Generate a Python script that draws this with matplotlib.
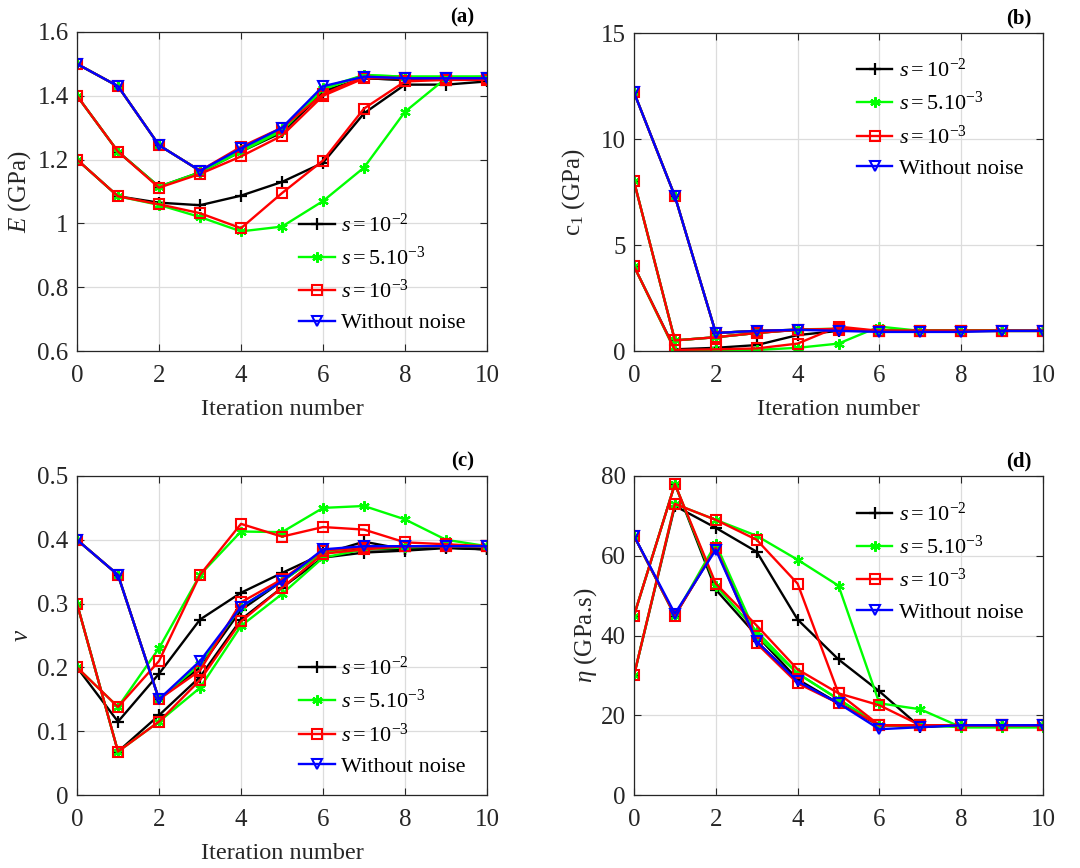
import matplotlib
matplotlib.use('Agg')
import matplotlib.pyplot as plt

plt.rcParams['font.family'] = 'Liberation Serif'
plt.rcParams['mathtext.fontset'] = 'custom'
plt.rcParams['mathtext.rm'] = 'Liberation Serif'
plt.rcParams['mathtext.it'] = 'Liberation Serif:italic'
plt.rcParams['mathtext.bf'] = 'Liberation Serif:bold'
plt.rcParams['mathtext.default'] = 'it'

iters = list(range(11))

# ---- (a) Young's modulus E (GPa); three starting guesses per noise level
E_s2 = [[1.5, 1.43, 1.245, 1.165, 1.23, 1.29, 1.415, 1.455, 1.45, 1.45, 1.45],
        [1.4, 1.225, 1.115, 1.16, 1.225, 1.285, 1.41, 1.455, 1.45, 1.45, 1.45],
        [1.2, 1.085, 1.065, 1.057, 1.087, 1.13, 1.19, 1.345, 1.435, 1.435, 1.445]]
E_s5 = [[1.5, 1.43, 1.245, 1.165, 1.23, 1.295, 1.425, 1.465, 1.46, 1.46, 1.46],
        [1.4, 1.225, 1.115, 1.16, 1.225, 1.29, 1.42, 1.465, 1.46, 1.46, 1.46],
        [1.2, 1.085, 1.058, 1.02, 0.975, 0.99, 1.07, 1.175, 1.35, 1.455, 1.46]]
E_s3 = [[1.5, 1.43, 1.245, 1.165, 1.24, 1.30, 1.405, 1.46, 1.455, 1.455, 1.455],
        [1.4, 1.225, 1.112, 1.155, 1.21, 1.275, 1.40, 1.455, 1.455, 1.455, 1.455],
        [1.2, 1.085, 1.06, 1.032, 0.985, 1.095, 1.197, 1.36, 1.445, 1.45, 1.45]]
E_nn = [1.5, 1.43, 1.245, 1.165, 1.235, 1.30, 1.43, 1.46, 1.455, 1.455, 1.455]

# ---- (b) c1 (GPa)
C_s2 = [[12.2, 7.3, 0.85, 0.95, 1.0, 1.0, 0.95, 0.95, 0.95, 0.95, 0.95],
        [8.0, 0.5, 0.65, 0.85, 1.0, 1.0, 0.95, 0.95, 0.95, 0.95, 0.95],
        [4.0, 0.08, 0.15, 0.28, 0.75, 0.95, 0.95, 0.95, 0.95, 0.95, 0.95]]
C_s5 = [[12.2, 7.3, 0.85, 0.95, 1.0, 1.0, 0.95, 0.95, 0.95, 0.95, 0.95],
        [8.0, 0.5, 0.65, 0.85, 1.02, 1.05, 0.95, 0.95, 0.95, 0.95, 0.95],
        [4.0, 0.02, 0.05, 0.05, 0.15, 0.35, 1.15, 0.95, 0.95, 0.95, 0.95]]
C_s3 = [[12.2, 7.3, 0.85, 0.95, 1.0, 1.0, 0.95, 0.95, 0.95, 0.95, 0.95],
        [8.0, 0.5, 0.65, 0.85, 1.0, 1.05, 0.95, 0.95, 0.95, 0.95, 0.95],
        [4.0, 0.05, 0.08, 0.12, 0.35, 1.15, 0.95, 0.95, 0.95, 0.95, 0.95]]
C_nn = [12.2, 7.3, 0.85, 0.95, 1.0, 0.95, 0.9, 0.9, 0.9, 0.95, 0.95]

# ---- (c) Poisson ratio nu
N_s2 = [[0.4, 0.345, 0.15, 0.2, 0.29, 0.335, 0.38, 0.385, 0.385, 0.388, 0.385],
        [0.3, 0.068, 0.125, 0.185, 0.275, 0.325, 0.372, 0.38, 0.383, 0.387, 0.385],
        [0.2, 0.115, 0.19, 0.275, 0.317, 0.348, 0.378, 0.397, 0.385, 0.388, 0.385]]
N_s5 = [[0.4, 0.345, 0.15, 0.205, 0.295, 0.335, 0.38, 0.39, 0.39, 0.39, 0.39],
        [0.3, 0.068, 0.115, 0.168, 0.265, 0.315, 0.372, 0.385, 0.388, 0.39, 0.39],
        [0.2, 0.138, 0.23, 0.345, 0.413, 0.412, 0.45, 0.453, 0.432, 0.40, 0.39]]
N_s3 = [[0.4, 0.345, 0.15, 0.195, 0.302, 0.338, 0.383, 0.388, 0.39, 0.39, 0.39],
        [0.3, 0.068, 0.115, 0.18, 0.272, 0.325, 0.378, 0.385, 0.39, 0.39, 0.39],
        [0.2, 0.138, 0.21, 0.345, 0.425, 0.405, 0.42, 0.416, 0.396, 0.393, 0.39]]
N_nn = [0.4, 0.345, 0.15, 0.21, 0.295, 0.335, 0.385, 0.39, 0.39, 0.39, 0.39]

# ---- (d) viscosity eta (GPa.s)
H_s2 = [[65, 45, 62, 38.5, 28.5, 23, 17.5, 17.5, 17.5, 17.5, 17.5],
        [45, 78, 51.5, 40, 29, 23, 17.5, 17.5, 17.5, 17.5, 17.5],
        [30, 72.5, 67, 61, 44, 34, 26, 17, 17.5, 17.5, 17.5]]
H_s5 = [[65, 45, 63, 40, 30.5, 24, 17.5, 17.5, 17.5, 17.5, 17.5],
        [45, 78, 52.5, 41, 30.5, 24, 17.5, 17.5, 17, 17, 17],
        [30, 73, 69, 65, 59, 52.5, 23, 21.5, 17, 17, 17]]
H_s3 = [[65, 45, 62, 38, 28, 23, 17.5, 17.5, 17.5, 17.5, 17.5],
        [45, 78, 53, 42.5, 31.5, 25.5, 17.5, 17.5, 17.5, 17.5, 17.5],
        [30, 73, 69, 64, 53, 25.5, 22.5, 17.5, 17.5, 17.5, 17.5]]
H_nn = [65, 45.5, 61.5, 38.5, 28.5, 23, 16.5, 17, 17.5, 17.5, 17.5]

LABELS = [r'$s=10^{-2}$', r'$s=5.10^{-3}$', r'$s=10^{-3}$', 'Without noise']
STYLE = [dict(color='#000000', marker='+', ms=9, mew=1.6),
         dict(color='#00ff00', marker=(6, 2, 0), ms=7.5, mew=1.6),
         dict(color='#ff0000', marker='s', ms=6.5, mew=1.5, mfc='none'),
         dict(color='#0000ff', marker='v', ms=7.5, mew=1.5, mfc='none')]

AX_POS = {'a': [77, 32, 487, 351], 'b': [634, 33, 1043, 351],
          'c': [77, 476, 487, 795], 'd': [634, 476, 1043, 795]}
W, H = 1080, 868


def panel(fig, key, s2, s5, s3, nn, ylim, yticks, yticklabels, ylabel,
          leg_anchor, xlabel=True, ylabelpad=3):
    l, t, r, b = AX_POS[key]
    ax = fig.add_axes([l / W, 1 - b / H, (r - l) / W, (b - t) / H])
    handles = []
    for runs, st in zip([s2, s5, s3], STYLE[:3]):
        for k, y in enumerate(runs):
            h, = ax.plot(iters, y, lw=1.7, **st)
            if k == 0:
                handles.append(h)
    h, = ax.plot(iters, nn, lw=1.7, **STYLE[3])
    handles.append(h)

    ax.set_xlim(0, 10)
    ax.set_ylim(*ylim)
    ax.set_xticks(range(0, 11, 2))
    ax.set_yticks(yticks)
    ax.set_yticklabels(yticklabels)
    ax.tick_params(direction='in', top=True, right=True, labelsize=18,
                   length=5, width=0.8, colors='#262626')
    ax.tick_params(axis='x', pad=10)
    ax.tick_params(axis='y', pad=6)
    for sp in ax.spines.values():
        sp.set_color('#262626')
        sp.set_linewidth(0.9)
    ax.grid(True, color='#dcdcdc', lw=0.9)
    ax.set_axisbelow(True)
    ax.set_ylabel(ylabel, fontsize=18, color='#262626', labelpad=ylabelpad)
    if xlabel:
        ax.set_xlabel('Iteration number', fontsize=17.5, color='#262626',
                      labelpad=9)
    ax.legend(handles, LABELS, loc='upper left', bbox_to_anchor=leg_anchor,
              frameon=False, fontsize=16, handlelength=1.6,
              handletextpad=0.3, labelspacing=0.45, borderaxespad=0)
    ax.text(0.94, 1.015, f'({key})', transform=ax.transAxes, ha='center',
            va='bottom', fontsize=15, fontweight='bold')
    return ax


fig = plt.figure(figsize=(10.8, 8.68), dpi=100)

panel(fig, 'a', E_s2, E_s5, E_s3, E_nn, (0.6, 1.6),
      [0.6, 0.8, 1.0, 1.2, 1.4, 1.6], ['0.6', '0.8', '1', '1.2', '1.4', '1.6'],
      r'$E$ (GPa)', (0.52, 0.46))
panel(fig, 'b', C_s2, C_s5, C_s3, C_nn, (0, 15),
      [0, 5, 10, 15], ['0', '5', '10', '15'],
      r'c$_{\mathrm{1}}$ (GPa)', (0.523, 0.947), ylabelpad=10)
panel(fig, 'c', N_s2, N_s5, N_s3, N_nn, (0, 0.5),
      [0, 0.1, 0.2, 0.3, 0.4, 0.5], ['0', '0.1', '0.2', '0.3', '0.4', '0.5'],
      r'$\nu$', (0.52, 0.461))
panel(fig, 'd', H_s2, H_s5, H_s3, H_nn, (0, 80),
      [0, 20, 40, 60, 80], ['0', '20', '40', '60', '80'],
      r'$\eta$ (GPa.s)', (0.523, 0.945), xlabel=False, ylabelpad=1)

fig.savefig('out.png', dpi=100)
